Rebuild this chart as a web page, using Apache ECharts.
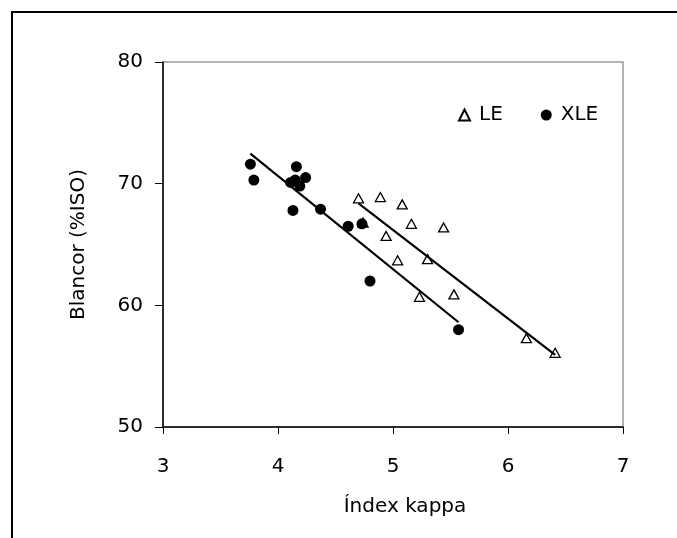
<!DOCTYPE html>
<html>
<head>
<meta charset="utf-8">
<script src="https://cdn.jsdelivr.net/npm/echarts@6/dist/echarts.min.js"></script>
<style>
  html, body { margin: 0; padding: 0; background: #fff; }
  #chart { width: 677px; height: 538px; }
</style>
</head>
<body>
<div id="chart"></div>
<script>
// Kappa number vs. brightness for two pulp series
const leKappa   = [4.70, 4.89, 5.08, 5.16, 5.44, 4.94, 5.04, 5.30, 5.23, 5.53, 4.74, 6.16, 6.41];
const leBright  = [68.8, 68.9, 68.3, 66.7, 66.4, 65.7, 63.7, 63.8, 60.7, 60.9, 66.8, 57.3, 56.1];
const xleKappa  = [3.76, 3.79, 4.16, 4.11, 4.15, 4.19, 4.24, 4.13, 4.37, 4.61, 4.73, 4.80, 5.57];
const xleBright = [71.6, 70.3, 71.4, 70.1, 70.3, 69.8, 70.5, 67.8, 67.9, 66.5, 66.7, 62.0, 58.0];

const xTicks = [3, 4, 5, 6, 7];
const yTicks = [50, 60, 70, 80];

function pairs(xs, ys) { return xs.map((x, i) => [x, ys[i]]); }

// Least-squares trend line spanning the series' own x range
function trend(xs, ys) {
  const n = xs.length;
  const mx = xs.reduce((a, b) => a + b, 0) / n;
  const my = ys.reduce((a, b) => a + b, 0) / n;
  let sxy = 0, sxx = 0;
  for (let i = 0; i < n; i++) {
    sxy += (xs[i] - mx) * (ys[i] - my);
    sxx += (xs[i] - mx) * (xs[i] - mx);
  }
  const b = sxy / sxx, a = my - b * mx;
  const x0 = Math.min(...xs), x1 = Math.max(...xs);
  return [[x0, a + b * x0], [x1, a + b * x1]];
}

const FONT = 'DejaVu Sans';
const chart = echarts.init(document.getElementById('chart'), null, { renderer: 'canvas' });

chart.setOption({
  backgroundColor: '#fff',
  animation: false,
  textStyle: { fontFamily: FONT, color: '#000' },
  graphic: [{
    type: 'rect',
    shape: { x: 12, y: 12, width: 1000, height: 1000 },
    style: { fill: 'none', stroke: '#000', lineWidth: 2 },
    silent: true
  }],
  grid: {
    left: 163, top: 62, width: 460, height: 365,
    show: true, borderColor: '#9a9a9a', borderWidth: 1.5, backgroundColor: 'transparent'
  },
  legend: {
    left: 458, top: 105, padding: 0,
    itemWidth: 11, itemHeight: 11, itemGap: 38,
    textStyle: { fontFamily: FONT, fontSize: 20, color: '#000', padding: [0, 0, 0, 4] },
    data: ['LE', 'XLE']
  },
  xAxis: {
    type: 'value', min: xTicks[0], max: xTicks[xTicks.length - 1], interval: 1,
    name: 'Índex kappa', nameLocation: 'middle', nameGap: 70,
    nameTextStyle: { fontFamily: FONT, fontSize: 20, color: '#000', padding: [0, 0, 0, 24] },
    axisLine: { show: true, lineStyle: { color: '#000', width: 1.5 } },
    axisTick: { show: true, inside: false, length: 7, lineStyle: { color: '#000' } },
    axisLabel: { fontFamily: FONT, fontSize: 20, color: '#000', margin: 30 },
    splitLine: { show: false }
  },
  yAxis: {
    type: 'value', min: yTicks[0], max: yTicks[yTicks.length - 1], interval: 10,
    name: 'Blancor (%ISO)', nameLocation: 'middle', nameGap: 74,
    nameTextStyle: { fontFamily: FONT, fontSize: 20, color: '#000' },
    axisLine: { show: true, lineStyle: { color: '#000', width: 1.5 } },
    axisTick: { show: true, inside: false, length: 8, lineStyle: { color: '#000' } },
    axisLabel: { fontFamily: FONT, fontSize: 20, color: '#000', margin: 20 },
    splitLine: { show: false }
  },
  series: [
    {
      name: 'LE', type: 'scatter', symbol: 'triangle', symbolSize: [10, 9],
      itemStyle: { color: '#fff', borderColor: '#000', borderWidth: 1.3, opacity: 1 },
      data: pairs(leKappa, leBright), z: 3
    },
    {
      name: 'XLE', type: 'scatter', symbol: 'circle', symbolSize: 11,
      itemStyle: { color: '#000', opacity: 1 },
      data: pairs(xleKappa, xleBright), z: 4
    },
    {
      name: 'LE trend', type: 'line', data: trend(leKappa, leBright),
      showSymbol: false, symbol: 'none', lineStyle: { color: '#000', width: 2.2 }, z: 5
    },
    {
      name: 'XLE trend', type: 'line', data: trend(xleKappa, xleBright),
      showSymbol: false, symbol: 'none', lineStyle: { color: '#000', width: 2.2 }, z: 5
    }
  ]
});
</script>
</body>
</html>
